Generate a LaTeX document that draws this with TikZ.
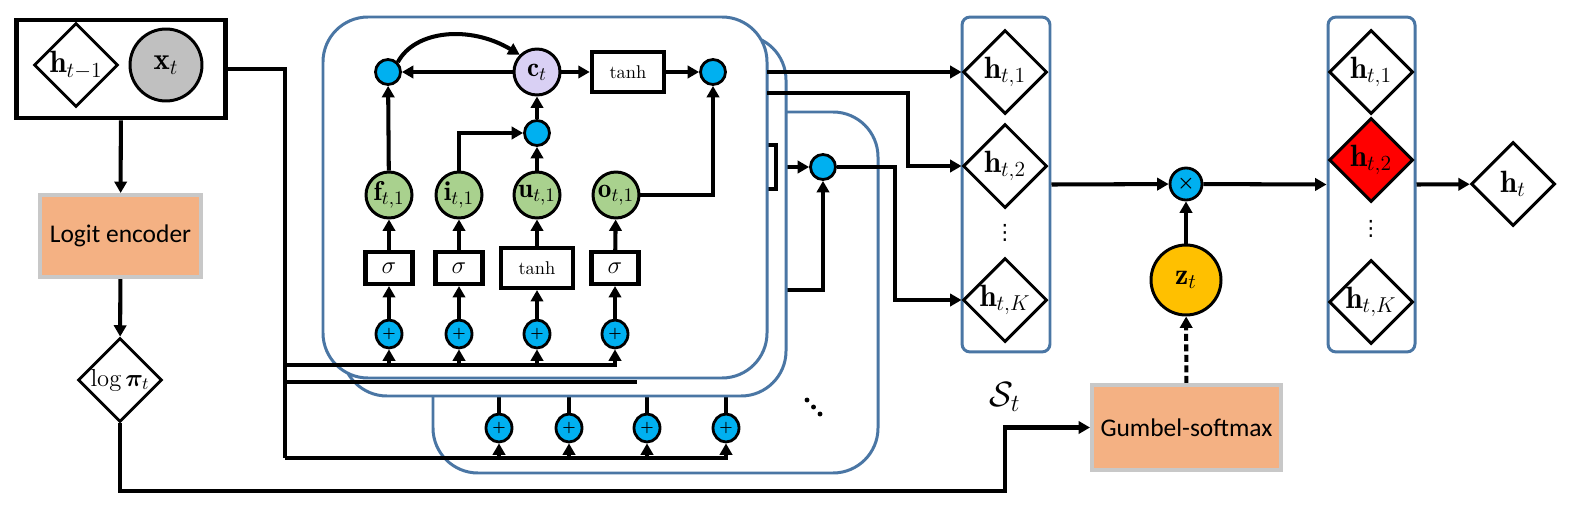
\RequirePackage{fix-cm}
\documentclass[tikz,border=0pt]{standalone}
\usepackage{fontspec}
\usepackage{amsmath,bm}
\newfontfamily\carlito{Carlito}
\newfontfamily\dejavu{DejaVu Sans}
\usetikzlibrary{shapes.geometric,arrows.meta}
\definecolor{opblue}{HTML}{00B0F0}
\definecolor{gategreen}{HTML}{A9D18E}
\definecolor{celllilac}{HTML}{D9D0F4}
\definecolor{encorange}{HTML}{F4B183}
\definecolor{encgray}{HTML}{C8C8C8}
\definecolor{zgold}{HTML}{FFC000}
\definecolor{panelblue}{HTML}{4A76A4}
\definecolor{xgray}{HTML}{C0C0C0}
\newcommand{\nowidth}[1]{\makebox[0pt]{#1}}
\tikzset{
  wire/.style={line width=2.3pt},
  arr/.style={line width=2.3pt, -{Triangle[length=6.5pt,width=7pt]}},
  op/.style={circle, draw, line width=1.6pt, fill=opblue, minimum size=0.5cm, inner sep=0pt,
    path picture={\fill (path picture bounding box.center) circle (1pt);}},
  plus/.style={ellipse, draw, line width=1.6pt, fill=opblue, minimum width=0.52cm, minimum height=0.56cm,
    inner sep=0pt, font=\fontsize{8}{8}\selectfont},
  gate/.style={circle, draw, line width=1.7pt, fill=gategreen, minimum size=0.92cm, inner sep=0pt,
    font=\fontsize{15.5}{17}\selectfont},
  actbox/.style={draw, line width=2.3pt, minimum width=0.94cm, minimum height=0.64cm, inner sep=0pt,
    fill=white, font=\fontsize{14}{16}\selectfont},
  tanhbox/.style={actbox, minimum width=1.45cm, minimum height=0.8cm, font=\fontsize{10.5}{12}\selectfont},
  hdiam/.style={diamond, draw, line width=1.7pt, fill=white, minimum width=1.68cm, minimum height=1.68cm,
    inner sep=0pt, font=\fontsize{17.5}{19}\selectfont},
  vdotsnode/.style={inner sep=0pt, font=\dejavu\fontsize{12}{13}\selectfont},
  panel/.style={draw=panelblue, line width=1.7pt, fill=white, rounded corners=0.9cm},
  setbox/.style={draw=panelblue, line width=1.7pt, rounded corners=0.16cm, minimum width=1.76cm,
    minimum height=6.7cm, inner sep=0pt},
  encbox/.style={draw=encgray, line width=2.3pt, fill=encorange, inner sep=0pt,
    font=\carlito\fontsize{14.5}{16}\selectfont},
}
\begin{document}
\begin{tikzpicture}[x=0.02cm, y=-0.02cm]
\useasboundingbox (0,0) rectangle (1575,507);

% input and logit branch
\node[draw, line width=2.8pt, minimum width=4.18cm, minimum height=1.96cm] (inbox) at (121,69) {};
\node[hdiam] (hprev) at (76,65) {\nowidth{$\mathbf{h}_{t-1}$}};
\node[circle, draw, line width=1.7pt, fill=xgray, minimum size=1.44cm, inner sep=0pt,
  font=\fontsize{17.5}{19}\selectfont] (xt) at (166,65) {$\mathbf{x}_t$};
\node[encbox, minimum width=3.22cm, minimum height=1.64cm] (logit) at (120.5,236) {Logit encoder};
\node[hdiam, font=\fontsize{14}{16}\selectfont] (logpi) at (120,380) {\nowidth{$\log\bm{\pi}_t$}};

\coordinate (busA) at (285,365);
\coordinate (busB) at (285,382);
\coordinate (busBend) at (637,382);
\coordinate (busC) at (285,458);

% right part
\node[setbox] (S) at (1006,184.5) {};
\node[hdiam] (sa1) at (1005,72) {\nowidth{$\mathbf{h}_{t,1}$}};
\node[hdiam] (sa2) at (1005,166) {\nowidth{$\mathbf{h}_{t,2}$}};
\node[hdiam] (sK) at (1005,300) {\nowidth{$\mathbf{h}_{t,K}$}};
\node[vdotsnode] (sdots) at (1005,233) {⋮};
\node[font=\fontsize{20}{22}\selectfont] (Slab) at (1005,397) {$\mathcal{S}_t$};

\node[circle, draw, line width=1.6pt, fill=opblue, minimum size=0.64cm, inner sep=0pt,
  font=\fontsize{11}{12}\selectfont] (mul) at (1186,184) {$\bm{\times}$};
\node[circle, draw, line width=1.7pt, fill=zgold, minimum size=1.4cm, inner sep=0pt,
  font=\fontsize{17}{19}\selectfont] (zt) at (1186,280) {$\mathbf{z}_t$};
\node[encbox, minimum width=3.78cm, minimum height=1.7cm] (gumbel) at (1186.5,427.5) {Gumbel-softmax};

\node[setbox, minimum width=1.74cm] (R) at (1371.5,184.5) {};
\node[hdiam] (ra1) at (1371,72) {\nowidth{$\mathbf{h}_{t,1}$}};
\node[hdiam, fill=red] (ra2) at (1371,160) {\nowidth{$\mathbf{h}_{t,2}$}};
\node[hdiam] (rK) at (1371,302) {\nowidth{$\mathbf{h}_{t,K}$}};
\node[vdotsnode] (rdots) at (1371,229) {⋮};
\node[hdiam] (ht) at (1513,184) {\nowidth{$\mathbf{h}_t$}};

% third cell (back)
\draw[panel] (433,112) rectangle (878,473);
\foreach \x/\n in {499/1,569/2,647/3,726/4} {
  \node[plus] (q\n) at (\x,428) {$\bm{+}$};
  \draw[wire] (q\n) -- (\x,380);
}
\draw[arr] (busC) -| (q4);
\foreach \n in {1,2,3} \draw[arr] (q\n |- busC) -- (q\n);
\node[tanhbox, fill=none] (tanh3) at (738,167) {};
\node[op] (od3) at (823,167) {};
\coordinate (o3) at (726,290);
\draw[arr] (tanh3) -- (od3);
\draw[arr] (o3) -| (od3);
\foreach \x/\y in {807/400, 813.5/407, 820/414} \fill (\x,\y) circle (1.4pt);

% second cell
\draw[panel] (342,35) rectangle (786,396);
\draw[line width=2.3pt] (tanh3.south west) rectangle (tanh3.north east);
\draw[wire] (busB) -- (busBend);

% first cell
\draw[panel] (323,17) rectangle (767,378);
\node[op] (fd) at (388,72) {};
\node[circle, draw, line width=1.7pt, fill=celllilac, minimum size=0.92cm, inner sep=0pt,
  font=\fontsize{15.5}{17}\selectfont] (ct) at (537,72) {$\mathbf{c}_t$};
\node[tanhbox] (tanhc) at (628,72) {tanh};
\node[op] (od) at (713,72) {};
\node[op] (id) at (537,133) {};
\node[gate] (f) at (389,195) {\nowidth{$\mathbf{f}_{t,1}$}};
\node[gate] (i) at (459,195) {\nowidth{$\mathbf{i}_{t,1}$}};
\node[gate] (u) at (537,195) {\nowidth{$\mathbf{u}_{t,1}$}};
\node[gate] (o) at (616,195) {\nowidth{$\mathbf{o}_{t,1}$}};
\node[actbox] (sf) at (389,268) {$\sigma$};
\node[actbox] (si) at (459,268) {$\sigma$};
\node[tanhbox] (su) at (537,268) {tanh};
\node[actbox] (so) at (615,268) {$\sigma$};
\foreach \g/\x in {f/389,i/459,u/537,o/615} {
  \node[plus] (p\g) at (\x,334) {$\bm{+}$};
  \draw[arr] (p\g) -- (s\g);
  \draw[arr] (s\g) -- (\g);
}
\draw[arr] (busA) -| (po);
\foreach \g in {f,i,u} \draw[arr] (p\g |- busA) -- (p\g);

\draw[arr] (ct) -- (fd);
\draw[arr] (fd.north east) .. controls (415,30) and (470,25) .. (ct.north west);
\draw[arr] (ct) -- (tanhc);
\draw[arr] (tanhc) -- (od);
\draw[arr] (id) -- (ct);
\draw[arr] (f) -- (fd);
\draw[arr] (i) |- (id);
\draw[arr] (u) -- (id);
\draw[arr] (o) -| (od);

% outputs of the cells
\coordinate (out1) at (767,72);
\coordinate (out2) at (767,93);
\draw[arr] (out1) -- (sa1);
\draw[arr] (out2) -- (908,93) |- (sa2);
\draw[arr] (od3) -- (895,167) |- (sK);

% connections
\draw[wire] (inbox.east) -| (busC);
\draw[arr] (inbox) -- (logit);
\draw[arr] (logit) -- (logpi);
\draw[arr] (logpi.south) |- (1005,491) |- (gumbel.west);
\draw[arr, dash pattern=on 4pt off 2pt] (gumbel) -- (zt);
\draw[arr] (zt) -- (mul);
\draw[arr] (S.east) -- (mul);
\draw[arr] (mul) -- (R.west);
\draw[arr] (R.east) -- (ht);
\end{tikzpicture}
\end{document}
